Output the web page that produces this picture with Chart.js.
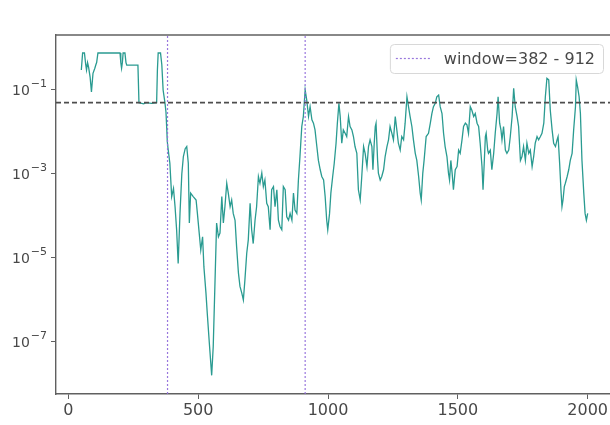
<!DOCTYPE html>
<html>
<head>
<meta charset="utf-8">
<script src="https://cdn.jsdelivr.net/npm/chart.js@4.4.1/dist/chart.umd.min.js"></script>
<style>
  html, body { margin: 0; padding: 0; background: #fff; overflow: hidden; }
  #wrap { position: relative; width: 616px; height: 425px; }
</style>
</head>
<body>
<div id="wrap"><canvas id="pvalChart"></canvas></div>
<script>
// sliding p-value along the sequence
const positions = [
  50, 55, 62, 67, 70, 74, 78, 84, 89, 95, 102, 106, 109, 114, 150, 199, 202, 205, 208, 211,
  218, 222, 225, 268, 272, 290, 300, 320, 340, 343, 346, 355, 360, 365, 372, 376, 379, 381, 384, 391,
  398, 405, 411, 417, 423, 430, 437, 443, 450, 456, 462, 466, 471, 481, 492, 497, 504, 510, 517, 522,
  530, 535, 543, 552, 558, 565, 571, 578, 584, 591, 597, 603, 610, 616, 623, 629, 635, 642, 648, 655,
  661, 668, 674, 680, 687, 693, 700, 706, 712, 719, 725, 732, 738, 745, 751, 757, 764, 770, 777, 783,
  790, 796, 803, 809, 815, 822, 828, 835, 841, 848, 854, 861, 867, 873, 880, 886, 892, 899, 905, 912,
  918, 925, 931, 938, 944, 950, 957, 963, 970, 976, 983, 989, 995, 999, 1006, 1011, 1018, 1024, 1031, 1036,
  1042, 1047, 1053, 1059, 1066, 1072, 1079, 1085, 1092, 1098, 1104, 1111, 1117, 1124, 1130, 1137, 1143, 1150, 1156, 1162,
  1169, 1173, 1178, 1182, 1185, 1191, 1194, 1201, 1207, 1214, 1220, 1227, 1233, 1239, 1246, 1252, 1259, 1265, 1271, 1278,
  1284, 1291, 1297, 1304, 1310, 1316, 1323, 1329, 1336, 1342, 1349, 1355, 1359, 1365, 1370, 1378, 1387, 1394, 1400, 1406,
  1413, 1419, 1426, 1432, 1439, 1445, 1451, 1458, 1464, 1468, 1473, 1478, 1483, 1490, 1497, 1503, 1509, 1516, 1522, 1529,
  1535, 1541, 1548, 1554, 1561, 1567, 1574, 1580, 1586, 1593, 1597, 1602, 1606, 1609, 1615, 1618, 1625, 1631, 1638, 1644,
  1651, 1655, 1661, 1666, 1670, 1676, 1683, 1689, 1696, 1702, 1709, 1715, 1721, 1728, 1734, 1741, 1747, 1753, 1760, 1766,
  1773, 1779, 1786, 1792, 1798, 1805, 1811, 1818, 1824, 1831, 1837, 1843, 1850, 1856, 1863, 1869, 1876, 1882, 1886, 1892,
  1897, 1901, 1905, 1910, 1914, 1921, 1927, 1933, 1940, 1946, 1953, 1956, 1961, 1967, 1972, 1978, 1985, 1990, 1995, 2000
];
const pValues = [
  0.30, 0.76, 0.76, 0.40, 0.30, 0.45, 0.35, 0.20, 0.09, 0.25, 0.33, 0.40, 0.45, 0.76, 0.76, 0.76, 0.45, 0.33, 0.45, 0.76,
  0.76, 0.45, 0.39, 0.39, 0.05, 0.047, 0.05, 0.048, 0.05, 0.30, 0.76, 0.76, 0.40, 0.10, 0.05, 0.03, 0.012, 0.006, 0.004, 0.0018,
  2.9e-4, 4.5e-4, 1.66e-4, 4.7e-5, 7.4e-6, 1.15e-4, 1.0e-3, 0.0026, 0.004, 0.0045, 0.0018, 6.8e-5, 3.5e-4, 2.9e-4, 2.4e-4, 1.15e-4, 3.9e-5, 1.55e-5, 3.2e-5, 6.2e-6,
  1.45e-6, 4.8e-7, 9.3e-8, 1.6e-8, 7.8e-8, 3.0e-6, 6.8e-5, 3.2e-5, 3.9e-5, 2.9e-4, 6.8e-5, 1.66e-4, 6.0e-4, 3.5e-4, 1.66e-4, 2.4e-4, 1.15e-4, 7.9e-5, 1.86e-5, 4.4e-6,
  2.1e-6, 1.45e-6, 1.0e-6, 3.0e-6, 1.29e-5, 2.7e-5, 2.0e-4, 4.7e-5, 2.2e-5, 7.9e-5, 1.66e-4, 8.7e-4, 6.0e-4, 1.05e-3, 5.0e-4, 7.2e-4, 2.0e-4, 1.66e-4, 4.7e-5, 4.2e-4,
  5.0e-4, 1.66e-4, 4.2e-4, 7.9e-5, 5.6e-5, 4.7e-5, 5.0e-4, 4.2e-4, 9.5e-5, 7.9e-5, 1.15e-4, 7.9e-5, 3.5e-4, 1.38e-4, 1.15e-4, 7.2e-4, 0.0026, 0.0135, 0.0234, 0.1,
  0.058, 0.0234, 0.040, 0.0195, 0.0162, 0.0112, 0.0045, 0.0021, 0.00126, 8.7e-4, 7.2e-4, 2.9e-4, 7.9e-5, 4.7e-5, 1.15e-4, 3.5e-4, 8.7e-4, 0.0018, 0.0054, 0.0162,
  0.048, 0.0234, 0.0054, 0.0112, 0.0093, 0.0078, 0.0234, 0.0135, 0.0112, 0.0078, 0.0045, 0.0031, 4.2e-4, 2.4e-4, 8.7e-4, 0.0045, 0.0031, 0.0015, 0.0045, 0.0065,
  0.0045, 0.00126, 0.0054, 0.0135, 0.0162, 0.0021, 0.00105, 7.2e-4, 8.7e-4, 0.00126, 0.0026, 0.0045, 0.0065, 0.0135, 0.0093, 0.0065, 0.0234, 0.0112, 0.0054, 0.0037,
  0.0078, 0.0065, 0.0162, 0.069, 0.040, 0.0234, 0.0135, 0.0065, 0.0031, 0.0021, 8.7e-4, 3.5e-4, 2.4e-4, 0.00105, 0.0021, 0.0078, 0.0093, 0.0162, 0.0275, 0.040,
  0.048, 0.069, 0.076, 0.040, 0.0275, 0.0093, 0.0045, 0.0026, 0.00105, 7.2e-4, 0.0021, 0.00105, 4.2e-4, 0.00126, 0.0015, 0.0037, 0.0031, 0.0065, 0.0135, 0.0162,
  0.0148, 0.0093, 0.040, 0.033, 0.0234, 0.0275, 0.0162, 0.0135, 0.0054, 0.0015, 4.2e-4, 0.0021, 0.0078, 0.0093, 0.0037, 0.0031, 0.0037, 0.00126, 0.0031, 0.0093,
  0.0275, 0.069, 0.0162, 0.0112, 0.0065, 0.0135, 0.0037, 0.0031, 0.0037, 0.0078, 0.0234, 0.11, 0.040, 0.0234, 0.0135, 0.0021, 0.0026, 0.0045, 0.0021, 0.0054,
  0.0031, 0.0037, 0.0015, 0.0026, 0.0054, 0.0078, 0.0065, 0.0078, 0.0093, 0.0162, 0.069, 0.19, 0.174, 0.033, 0.0112, 0.0054, 0.0045, 0.0065, 0.0078, 0.0018,
  4.2e-4, 1.66e-4, 2.4e-4, 5.0e-4, 6.0e-4, 8.7e-4, 0.00126, 0.0021, 0.0031, 0.0112, 0.040, 0.174, 0.12, 0.069, 0.0275, 0.0021, 3.5e-4, 1.15e-4, 7.9e-5, 1.15e-4
];

const threshold = 0.05;
const windowStart = 382;
const windowEnd = 912;

const xLimits = [-47.5, 2097.5];
const yLimits = [5.75e-9, 2.04];
const xTickValues = [0, 500, 1000, 1500, 2000];
const yTickValues = [1e-1, 1e-3, 1e-5, 1e-7];
const yTickExponents = ['\u22121', '\u22123', '\u22125', '\u22127'];

const FONT = "'DejaVu Sans', sans-serif";
const AXIS_COLOR = '#606060';
const TEXT_COLOR = '#484848';

const series = positions.map((x, i) => ({ x: x, y: pValues[i] }));

// matplotlib-like frame: top spine, 10^n tick labels and a boxed legend
const frameAndLegend = {
  id: 'frameAndLegend',
  afterDraw(chart) {
    const ctx = chart.ctx;
    const area = chart.chartArea;
    const yScale = chart.scales.y;
    ctx.save();
    ctx.strokeStyle = AXIS_COLOR;
    ctx.lineWidth = 1.4;
    ctx.beginPath();
    ctx.moveTo(area.left, area.top);
    ctx.lineTo(area.right, area.top);
    ctx.stroke();

    // y tick labels with raised exponent
    ctx.fillStyle = TEXT_COLOR;
    ctx.textAlign = 'left';
    ctx.textBaseline = 'alphabetic';
    yTickValues.forEach((v, i) => {
      const ty = yScale.getPixelForValue(v);
      const right = area.left - 9;
      ctx.font = '11px ' + FONT;
      const supW = ctx.measureText(yTickExponents[i]).width;
      ctx.font = '14px ' + FONT;
      const baseW = ctx.measureText('10').width;
      const x0 = right - supW - baseW - 1;
      ctx.fillText('10', x0, ty + 5);
      ctx.font = '11px ' + FONT;
      ctx.fillText(yTickExponents[i], x0 + baseW + 1, ty - 3);
    });

    const ds = chart.data.datasets[2];
    ctx.font = '16px ' + FONT;
    const textW = ctx.measureText(ds.label).width;
    const boxRight = area.right - 10;
    const boxTop = area.top + 9;
    const boxH = 29;
    const boxW = 6 + 34 + 14 + textW + 8;
    const boxLeft = boxRight - boxW;

    ctx.fillStyle = 'rgba(255,255,255,0.85)';
    ctx.strokeStyle = '#d8d8d8';
    ctx.lineWidth = 1;
    ctx.beginPath();
    ctx.roundRect(boxLeft + 0.5, boxTop + 0.5, boxW, boxH, 4);
    ctx.fill();
    ctx.stroke();

    const midY = boxTop + boxH / 2;
    ctx.strokeStyle = ds.borderColor;
    ctx.lineWidth = ds.borderWidth;
    ctx.setLineDash(ds.borderDash);
    ctx.beginPath();
    ctx.moveTo(boxLeft + 6, midY);
    ctx.lineTo(boxLeft + 40, midY);
    ctx.stroke();
    ctx.setLineDash([]);

    ctx.fillStyle = TEXT_COLOR;
    ctx.textBaseline = 'middle';
    ctx.fillText(ds.label, boxLeft + 54, midY + 1);
    ctx.restore();
  }
};

const vLine = (x, label) => ({
  label: label,
  data: [{ x: x, y: yLimits[0] }, { x: x, y: yLimits[1] }],
  borderColor: 'rgba(147, 112, 219, 0.95)',
  borderWidth: 1.2,
  borderDash: [2, 2],
  pointRadius: 0,
  order: 1,
});

new Chart(document.getElementById('pvalChart'), {
  type: 'line',
  data: {
    datasets: [
      {
        label: 'p-value',
        data: series,
        borderColor: '#2a9b91',
        borderWidth: 1.3,
        pointRadius: 0,
        tension: 0,
        order: 3,
      },
      {
        label: 'threshold',
        data: [{ x: xLimits[0], y: threshold }, { x: xLimits[1], y: threshold }],
        borderColor: '#4d4d4d',
        borderWidth: 1.6,
        borderDash: [5, 3],
        pointRadius: 0,
        order: 2,
      },
      vLine(windowStart, 'window=' + windowStart + ' - ' + windowEnd),
      vLine(windowEnd, ''),
    ],
  },
  options: {
    responsive: true,
    maintainAspectRatio: false,
    animation: false,
    layout: { padding: { top: 35, right: 3, left: 0, bottom: 0 } },
    plugins: {
      legend: { display: false },
      tooltip: { enabled: false },
    },
    scales: {
      x: {
        type: 'linear',
        min: xLimits[0],
        max: xLimits[1],
        afterBuildTicks: (scale) => { scale.ticks = xTickValues.map(v => ({ value: v })); },
        afterFit: (scale) => { scale.height = 31; },
        border: { display: true, color: AXIS_COLOR, width: 1.4 },
        grid: { drawOnChartArea: false, drawTicks: true, tickLength: 5, color: AXIS_COLOR },
        ticks: {
          color: TEXT_COLOR,
          font: { family: FONT, size: 16 },
          padding: 2,
          maxRotation: 0,
          callback: (v) => String(v),
        },
      },
      y: {
        type: 'logarithmic',
        min: yLimits[0],
        max: yLimits[1],
        afterBuildTicks: (scale) => { scale.ticks = yTickValues.map(v => ({ value: v })); },
        afterFit: (scale) => { scale.width = 56; },
        border: { display: true, color: AXIS_COLOR, width: 1.4 },
        grid: { drawOnChartArea: false, drawTicks: true, tickLength: 5, color: AXIS_COLOR },
        ticks: { display: false },
      },
    },
  },
  plugins: [frameAndLegend],
});
</script>
</body>
</html>
